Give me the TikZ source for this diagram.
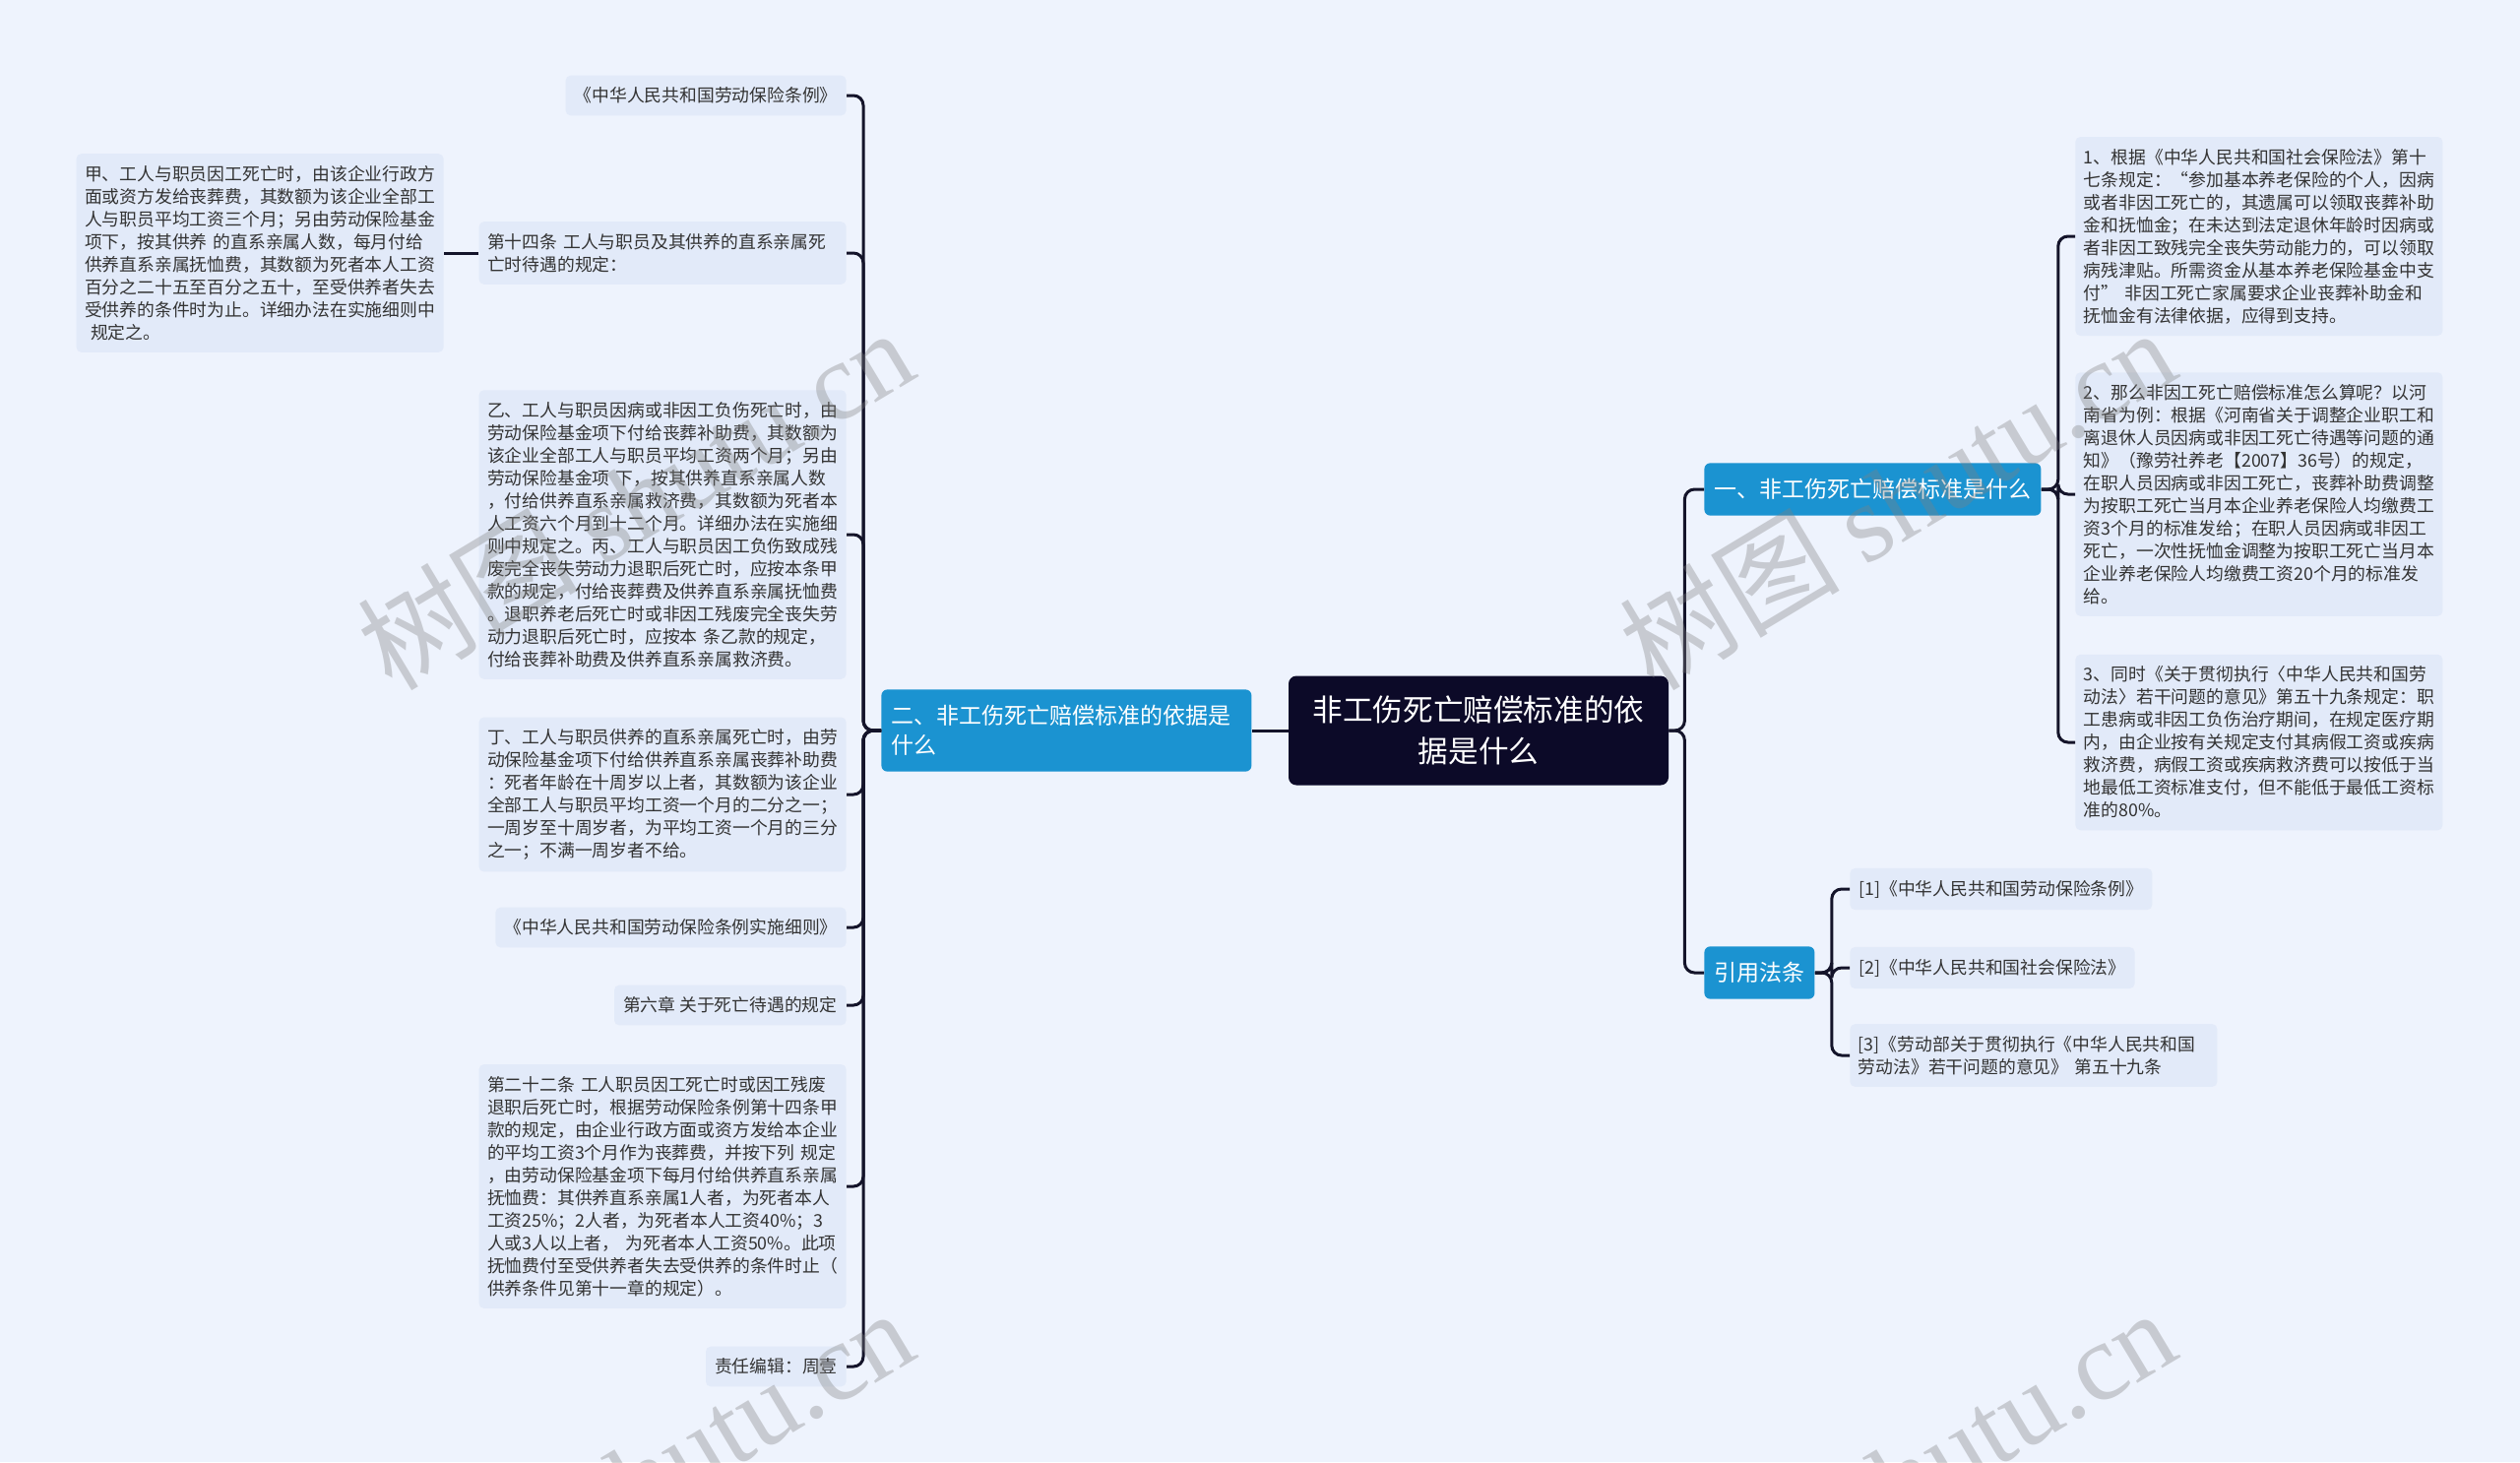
\documentclass[tikz,border=0pt]{standalone}
\usepackage{fontspec}
\setmainfont{Noto Sans CJK SC}
\newfontfamily\wmfont{Liberation Serif}
\usetikzlibrary{positioning, calc}

\definecolor{bgblue}{HTML}{EEF3FD}
\definecolor{leafblue}{HTML}{E2EAF9}
\definecolor{leaftext}{HTML}{333333}
\definecolor{hubblue}{HTML}{1B93D1}
\definecolor{navy}{HTML}{0C0A28}
\definecolor{linedark}{HTML}{14142A}

\begin{document}
\begin{tikzpicture}[
  x=0.5pt, y=-0.5pt,
  leaf/.style={fill=leafblue, rounded corners=2.5pt, inner xsep=4.5pt, inner ysep=6pt,
               align=left, text=leaftext, font=\fontsize{8.9}{11.5}\selectfont},
  para/.style={leaf, text width=178pt, inner xsep=4.25pt},
  hub/.style={fill=hubblue, rounded corners=3pt, inner xsep=5pt, inner ysep=8pt,
              align=left, text=white, font=\fontsize{11.5}{15}\selectfont},
  topic/.style={fill=navy, rounded corners=4pt, minimum width=193pt, minimum height=55.5pt,
                align=center, text=white, font=\fontsize{15.3}{20.8}\selectfont},
  link/.style={draw=linedark, line width=1.5pt, rounded corners=5pt},
  wmark/.style={text=gray, opacity=0.35, font=\fontsize{56}{60}\selectfont}
]
\fill[bgblue] (0,0) rectangle (2560,1485);
\useasboundingbox (0,0) rectangle (2560,1485);

% centre
\node[topic] (root) at (1502,742) {非工伤死亡赔偿标准的依\\据是什么};

% main branches
\node[hub, anchor=west, text width=178pt] (b2) at (895,742) {二、非工伤死亡赔偿标准的依据是\\什么};
\node[hub, anchor=west] (b1) at (1731,497) {一、非工伤死亡赔偿标准是什么};
\node[hub, anchor=west] (b3) at (1731,988) {引用法条};

% left side
\node[leaf, anchor=east] (l1) at (860,97) {《中华人民共和国劳动保险条例》};
\node[para, anchor=east] (l2) at (860,257) {第十四条 工人与职员及其供养的直系亲属死\\亡时待遇的规定：};
\node[para, anchor=east] (l2a) at (451,257) {甲、工人与职员因工死亡时，由该企业行政方\\面或资方发给丧葬费，其数额为该企业全部工\\人与职员平均工资三个月；另由劳动保险基金\\项下，按其供养 的直系亲属人数，每月付给\\供养直系亲属抚恤费，其数额为死者本人工资\\百分之二十五至百分之五十，至受供养者失去\\受供养的条件时为止。详细办法在实施细则中\\\ 规定之。};
\node[para, anchor=east] (l3) at (860,543) {乙、工人与职员因病或非因工负伤死亡时，由\\劳动保险基金项下付给丧葬补助费，其数额为\\该企业全部工人与职员平均工资两个月；另由\\劳动保险基金项 下，按其供养直系亲属人数\\，付给供养直系亲属救济费，其数额为死者本\\人工资六个月到十二个月。详细办法在实施细\\则中规定之。丙、工人与职员因工负伤致成残\\废完全丧失劳动力退职后死亡时，应按本条甲\\款的规定，付给丧葬费及供养直系亲属抚恤费\\。退职养老后死亡时或非因工残废完全丧失劳\\动力退职后死亡时，应按本 条乙款的规定，\\付给丧葬补助费及供养直系亲属救济费。};
\node[para, anchor=east] (l4) at (860,807) {丁、工人与职员供养的直系亲属死亡时，由劳\\动保险基金项下付给供养直系亲属丧葬补助费\\：死者年龄在十周岁以上者，其数额为该企业\\全部工人与职员平均工资一个月的二分之一；\\一周岁至十周岁者，为平均工资一个月的三分\\之一；不满一周岁者不给。};
\node[leaf, anchor=east] (l5) at (860,942) {《中华人民共和国劳动保险条例实施细则》};
\node[leaf, anchor=east] (l6) at (860,1021) {第六章 关于死亡待遇的规定};
\node[para, anchor=east] (l7) at (860,1205) {第二十二条 工人职员因工死亡时或因工残废\\退职后死亡时，根据劳动保险条例第十四条甲\\款的规定，由企业行政方面或资方发给本企业\\的平均工资3个月作为丧葬费，并按下列 规定\\，由劳动保险基金项下每月付给供养直系亲属\\抚恤费：其供养直系亲属1人者，为死者本人\\工资25\%；2人者，为死者本人工资40\%；3\\人或3人以上者， 为死者本人工资50\%。此项\\抚恤费付至受供养者失去受供养的条件时止（\\供养条件见第十一章的规定）。};
\node[leaf, anchor=east] (l8) at (860,1388) {责任编辑：周壹};

% right side
\node[para, anchor=west] (r1) at (2108,240) {1、根据《中华人民共和国社会保险法》第十\\七条规定：“参加基本养老保险的个人，因病\\或者非因工死亡的，其遗属可以领取丧葬补助\\金和抚恤金；在未达到法定退休年龄时因病或\\者非因工致残完全丧失劳动能力的，可以领取\\病残津贴。所需资金从基本养老保险基金中支\\付” 非因工死亡家属要求企业丧葬补助金和\\抚恤金有法律依据，应得到支持。};
\node[para, anchor=west] (r2) at (2108,502) {2、那么非因工死亡赔偿标准怎么算呢？以河\\南省为例：根据《河南省关于调整企业职工和\\离退休人员因病或非因工死亡待遇等问题的通\\知》（豫劳社养老【2007】36号）的规定，\\在职人员因病或非因工死亡，丧葬补助费调整\\为按职工死亡当月本企业养老保险人均缴费工\\资3个月的标准发给；在职人员因病或非因工\\死亡，一次性抚恤金调整为按职工死亡当月本\\企业养老保险人均缴费工资20个月的标准发\\给。};
\node[para, anchor=west] (r3) at (2108,754) {3、同时《关于贯彻执行〈中华人民共和国劳\\动法〉若干问题的意见》第五十九条规定：职\\工患病或非因工负伤治疗期间，在规定医疗期\\内，由企业按有关规定支付其病假工资或疾病\\救济费，病假工资或疾病救济费可以按低于当\\地最低工资标准支付，但不能低于最低工资标\\准的80\%。};

\node[leaf, anchor=west] (c1) at (1879,903) {[1]《中华人民共和国劳动保险条例》};
\node[leaf, anchor=west] (c2) at (1879,983) {[2]《中华人民共和国社会保险法》};
\node[para, anchor=west] (c3) at (1879,1072) {[3]《劳动部关于贯彻执行《中华人民共和国\\劳动法》若干问题的意见》 第五十九条};

% connectors
\coordinate (lj) at ($(b2.west)+(-18,0)$);
\coordinate (rj) at ($(root.east)+(16,0)$);
\coordinate (aj) at ($(b1.east)+(17,0)$);
\coordinate (cj) at ($(b3.east)+(17,0)$);

\draw[link] (root.west) -- (b2.east);
\draw[link] (root.east) -- (rj) |- (b1.west);
\draw[link] (root.east) -- (rj) |- (b3.west);

\draw[link] (b2.west) -- (lj) |- (l1.east);
\draw[link] (b2.west) -- (lj) |- (l2.east);
\draw[link] (b2.west) -- (lj) |- (l3.east);
\draw[link] (b2.west) -- (lj) |- (l4.east);
\draw[link] (b2.west) -- (lj) |- (l5.east);
\draw[link] (b2.west) -- (lj) |- (l6.east);
\draw[link] (b2.west) -- (lj) |- (l7.east);
\draw[link] (b2.west) -- (lj) |- (l8.east);
\draw[link] (l2.west) -- (l2a.east);

\draw[link] (b1.east) -- (aj) |- (r1.west);
\draw[link] (b1.east) -- (aj) |- (r2.west);
\draw[link] (b1.east) -- (aj) |- (r3.west);

\draw[link] (b3.east) -- (cj) |- (c1.west);
\draw[link] (b3.east) -- (cj) |- (c2.west);
\draw[link] (b3.east) -- (cj) |- (c3.west);

% watermark
\node[wmark, rotate=31] (wm1) at (645,506) {树图 {\wmfont shutu.cn}};
\node[wmark, rotate=31] (wm2) at (1927,506) {树图 {\wmfont shutu.cn}};
\node[wmark, rotate=31] (wm3) at (645,1502) {树图 {\wmfont shutu.cn}};
\node[wmark, rotate=31] (wm4) at (1927,1502) {树图 {\wmfont shutu.cn}};
\end{tikzpicture}
\end{document}
